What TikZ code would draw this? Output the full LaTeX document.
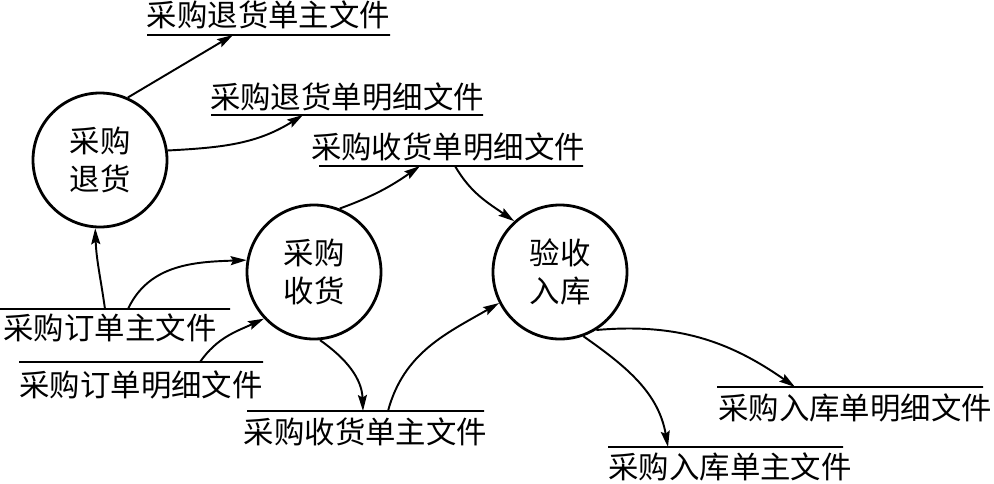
\documentclass[tikz,border=0pt]{standalone}
\usepackage{fontspec}
\setmainfont{Noto Sans CJK SC}
\usetikzlibrary{arrows.meta, positioning, calc}
\newcommand{\lbl}{\fontsize{17.3}{21.5}\selectfont}

\begin{document}
\begin{tikzpicture}[
  font=\lbl,
  >={Stealth[length=3.2mm, width=1.8mm, inset=0.5mm]},
  proc/.style={circle, draw, line width=1.6pt, minimum size=2.68cm,
               inner sep=0pt, align=center},
  store/.style={draw, line width=1.1pt, inner sep=0pt, minimum height=0pt,
                minimum width=#1},
  fname/.style={inner sep=0pt},
  flow/.style={->, line width=1.1pt},
]
\useasboundingbox (0,0) rectangle (19.88,-9.66);

% ---------------------------- the three processes -------------------------
\node[proc] (ret) at (2.00,-3.20)  {采购\\退货};
\node[proc] (rcv) at (6.28,-5.44)  {采购\\收货};
\node[proc] (acc) at (11.20,-5.44) {验收\\入库};

% ---------------------------- the files (one bar each) --------------------
\node[store=4.86cm] (retmain) at (5.37,-0.70)  {};
\node[store=5.44cm] (retdet)  at (6.94,-2.30)  {};
\node[store=5.28cm] (rcvdet)  at (9.02,-3.32)  {};
\node[store=4.60cm] (ordmain) at (2.30,-6.18)  {};
\node[store=4.88cm] (orddet)  at (2.82,-7.24)  {};
\node[store=4.74cm] (rcvmain) at (7.31,-8.22)  {};
\node[store=5.32cm] (stkdet)  at (17.00,-7.74) {};
\node[store=4.70cm] (stkmain) at (14.51,-8.94) {};

% names sit over the bar on top, under it lower down
\node[fname] (retmainT) at ([yshift=0.40cm]retmain.center) {采购退货单主文件};
\node[fname] (retdetT)  at ([yshift=0.36cm]retdet.center)  {采购退货单明细文件};
\node[fname] (rcvdetT)  at ([xshift=-0.06cm, yshift=0.38cm]rcvdet.center) {采购收货单明细文件};
\node[fname] (ordmainT) at ([xshift=-0.10cm, yshift=-0.38cm]ordmain.center) {采购订单主文件};
\node[fname] (orddetT)  at ([yshift=-0.46cm]orddet.center)  {采购订单明细文件};
\node[fname] (rcvmainT) at ([yshift=-0.42cm]rcvmain.center) {采购收货单主文件};
\node[fname] (stkdetT)  at ([xshift=0.10cm, yshift=-0.42cm]stkdet.center) {采购入库单明细文件};
\node[fname] (stkmainT) at ([xshift=0.09cm, yshift=-0.40cm]stkmain.center) {采购入库单主文件};

% ---------------------------- flow ----------------------------------------
\draw[flow] (ret.66) -- ([xshift=-0.71cm]retmain.center);
\draw[flow] (ret.8) to[out=3, in=212] ([xshift=-0.88cm]retdet.center);

\draw[flow] ([xshift=-0.20cm]ordmain.center) to[out=98, in=-88] (ret.266);
\draw[flow] ([xshift=0.26cm]ordmain.center) to[out=65, in=182] (rcv.170);
\draw[flow] ([xshift=1.18cm]orddet.center) to[out=55, in=205] (rcv.223);

\draw[flow] (rcv.68) to[out=20, in=215] ([xshift=-0.62cm]rcvdet.center);
\draw[flow] (rcv.-85) to[out=-35, in=92] ([xshift=-0.05cm]rcvmain.center);

\draw[flow] ([xshift=0.08cm]rcvdet.center) to[out=-60, in=145] (acc.132);
\draw[flow] ([xshift=0.45cm]rcvmain.center) to[out=75, in=210] (acc.207);

\draw[flow] (acc.-58) to[out=5, in=145] ([xshift=-1.10cm]stkdet.center);
\draw[flow] (acc.-70) to[out=-35, in=100] ([xshift=-1.15cm]stkmain.center);

\end{tikzpicture}
\end{document}
